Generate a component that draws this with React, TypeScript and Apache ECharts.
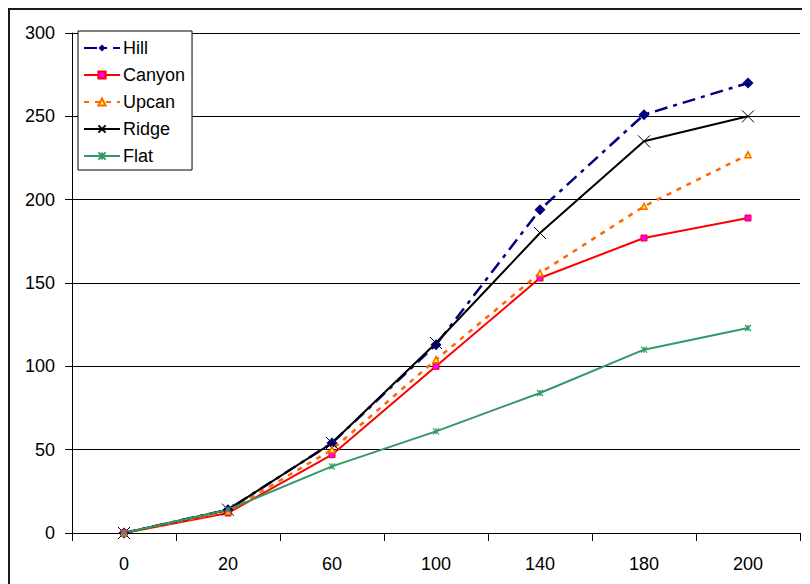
import React, { useEffect, useRef } from "react";
import * as echarts from "echarts";

const categories = ["0", "20", "60", "100", "140", "180", "200"];
const hill = [0, 14, 54, 113, 194, 251, 270];
const canyon = [0, 12, 47, 100, 153, 177, 189];
const upcan = [0, 13, 50, 104, 156, 196, 227];
const ridge = [0, 14, 54, 114, 180, 235, 250];
const flat = [0, 14, 40, 61, 84, 110, 123];

const FONT = "'Liberation Sans', Arial, sans-serif";
const X_SYM = "path://M0,0L10,10M10,0L0,10";
const STAR_SYM = "path://M0,0L10,10M10,0L0,10M5,0L5,10";

export default function App() {
  const ref = useRef<HTMLDivElement>(null);
  useEffect(() => {
    if (!ref.current) return;
    const chart = echarts.init(ref.current, undefined, { renderer: "svg" });
    chart.setOption({
      animation: false,
      backgroundColor: "#fff",
      textStyle: { fontFamily: FONT },
      graphic: [
        { type: "line", shape: { x1: 0, y1: 1, x2: 802, y2: 1 }, style: { stroke: "#1a1a1a", lineWidth: 2 } },
        { type: "line", shape: { x1: 1, y1: 0, x2: 1, y2: 576 }, style: { stroke: "#1a1a1a", lineWidth: 2 } },
      ],
      grid: { left: 64, top: 25, width: 728, height: 500, containLabel: false },
      legend: {
        left: 70,
        top: 23,
        orient: "vertical",
        backgroundColor: "#fff",
        borderColor: "#000",
        borderWidth: 1,
        borderRadius: 0,
        padding: [8, 7, 5, 5],
        itemGap: 9,
        itemWidth: 36,
        itemHeight: 9,
        textStyle: { fontSize: 18, color: "#000", fontFamily: FONT, padding: [0, 0, 0, -2] },
        data: ["Hill", "Canyon", "Upcan", "Ridge", "Flat"],
      },
      xAxis: {
        type: "category",
        data: categories,
        boundaryGap: true,
        axisLine: { show: true, lineStyle: { color: "#000", width: 1 } },
        axisTick: { show: true, length: 8, lineStyle: { color: "#000" } },
        axisLabel: { fontSize: 18, color: "#000", margin: 22, fontFamily: FONT },
        splitLine: { show: false },
      },
      yAxis: {
        type: "value",
        min: 0,
        max: 300,
        interval: 50,
        axisLine: { show: true, lineStyle: { color: "#000", width: 1 } },
        axisTick: { show: true, length: 7, lineStyle: { color: "#000" } },
        axisLabel: { fontSize: 18, color: "#000", margin: 17, fontFamily: FONT },
        splitLine: { show: true, lineStyle: { color: "#000", width: 1 } },
      },
      series: [
        {
          name: "Hill",
          type: "line",
          data: hill,
          symbol: "diamond",
          symbolSize: 11,
          itemStyle: { color: "#000080" },
          lineStyle: { color: "#000080", width: 2.5, type: [13, 6, 4, 6] },
        },
        {
          name: "Canyon",
          type: "line",
          data: canyon,
          symbol: "rect",
          symbolSize: 6,
          itemStyle: { color: "#FF00FF", borderColor: "#FF0000", borderWidth: 1 },
          lineStyle: { color: "#FF0000", width: 2 },
        },
        {
          name: "Upcan",
          type: "line",
          data: upcan,
          symbol: "triangle",
          symbolSize: 6,
          itemStyle: { color: "#FFFF00", borderColor: "#FF6600", borderWidth: 1.5 },
          lineStyle: { color: "#FF6600", width: 2.5, type: [5, 6] },
        },
        {
          name: "Ridge",
          type: "line",
          data: ridge,
          symbol: X_SYM,
          symbolSize: 12,
          itemStyle: { color: "#000", borderColor: "#000", borderWidth: 1 },
          lineStyle: { color: "#000", width: 2 },
        },
        {
          name: "Flat",
          type: "line",
          data: flat,
          symbol: STAR_SYM,
          symbolSize: 6,
          itemStyle: { color: "#339966", borderColor: "#339966", borderWidth: 1.2 },
          lineStyle: { color: "#339966", width: 2 },
        },
      ],
    });
    return () => chart.dispose();
  }, []);
  return <div ref={ref} style={{ width: 802, height: 576 }} />;
}
